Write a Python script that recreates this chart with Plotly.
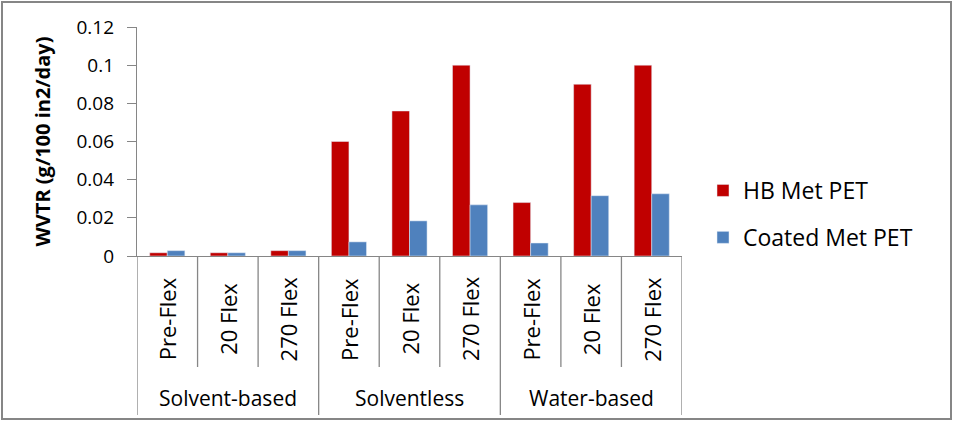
import plotly.graph_objects as go

groups = ["Solvent-based", "Solvent-based", "Solvent-based",
          "Solventless", "Solventless", "Solventless",
          "Water-based", "Water-based", "Water-based"]
flex = ["Pre-Flex", "20 Flex", "270 Flex"] * 3

hb_met_pet = [0.0017, 0.0017, 0.0028, 0.060, 0.076, 0.100, 0.028, 0.090, 0.100]
coated_met_pet = [0.0028, 0.0017, 0.0028, 0.0074, 0.0184, 0.0268, 0.0068, 0.0316, 0.0326]

W, H = 953, 424
ml, mr, mt, mb = 137, 271, 27, 168
pw, ph = W - ml - mr, H - mt - mb
GREY = "#868686"
FONT = "Open Sans"


def px_x(x):  # pixel -> paper (horizontal)
    return (x - ml) / pw


def px_y(y):  # pixel -> paper (vertical)
    return (H - mb - y) / ph


xs = list(range(len(flex)))

fig = go.Figure()
fig.add_bar(x=xs, y=hb_met_pet, name="HB Met PET",
            marker_color="#C00000", legendgroup="a")
fig.add_bar(x=xs, y=coated_met_pet, name="Coated Met PET",
            marker_color="#4F81BD", legendgroup="b")

shapes = []
annotations = []
# category labels and dividers under the axis (Excel style two-level axis)
for i, lab in enumerate(flex):
    annotations.append(dict(x=i, xref="x", y=px_y(319), yref="paper", text=lab,
                            textangle=-90, showarrow=False, yanchor="middle",
                            font=dict(size=22)))
for i in range(len(flex) + 1):
    is_group = i == 0 or i == len(flex) or groups[i] != groups[i - 1]
    shapes.append(dict(type="line", xref="x", yref="paper", x0=i - 0.5, x1=i - 0.5,
                       y0=0, y1=px_y(415 if is_group else 367),
                       line=dict(color=GREY, width=1.3)))
seen = []
for g in groups:
    if g not in seen:
        seen.append(g)
for g in seen:
    idx = [i for i, v in enumerate(groups) if v == g]
    annotations.append(dict(x=sum(idx) / len(idx), xref="x", y=px_y(398), yref="paper",
                            text=g, showarrow=False, yanchor="middle",
                            font=dict(size=21)))

# chart border
shapes.append(dict(type="rect", xref="paper", yref="paper",
                   x0=px_x(2), x1=px_x(951), y0=px_y(419), y1=px_y(2),
                   line=dict(color=GREY, width=2)))

fig.update_layout(
    width=W, height=H,
    margin=dict(l=ml, r=mr, t=mt, b=mb, autoexpand=False),
    paper_bgcolor="white", plot_bgcolor="white",
    font=dict(family=FONT, size=19, color="black"),
    barmode="group", bargap=0.42, bargroupgap=0,
    legend=dict(x=px_x(703), y=px_y(169), xanchor="left", yanchor="top",
                font=dict(size=23), tracegroupgap=14),
    shapes=shapes, annotations=annotations,
)
fig.update_xaxes(range=[-0.5, len(flex) - 0.5], showline=True, linecolor=GREY,
                 linewidth=1.3, showticklabels=False, ticks="", showgrid=False,
                 zeroline=False, automargin=False)
fig.update_yaxes(range=[0, 0.12], dtick=0.02, showline=True, linecolor=GREY,
                 linewidth=1.3, ticks="outside", ticklen=9, tickcolor=GREY,
                 ticklabelstandoff=9, tickfont=dict(size=19),
                 showgrid=False, zeroline=False, automargin=False,
                 title=dict(text="<b>WVTR (g/100 in2/day)</b>", font=dict(size=20),
                            standoff=20))

# no page margin, so the figure sits at the window's top-left corner
fig.write_html("out.html", config={"displayModeBar": False},
               post_script="document.body.style.margin='0';")
